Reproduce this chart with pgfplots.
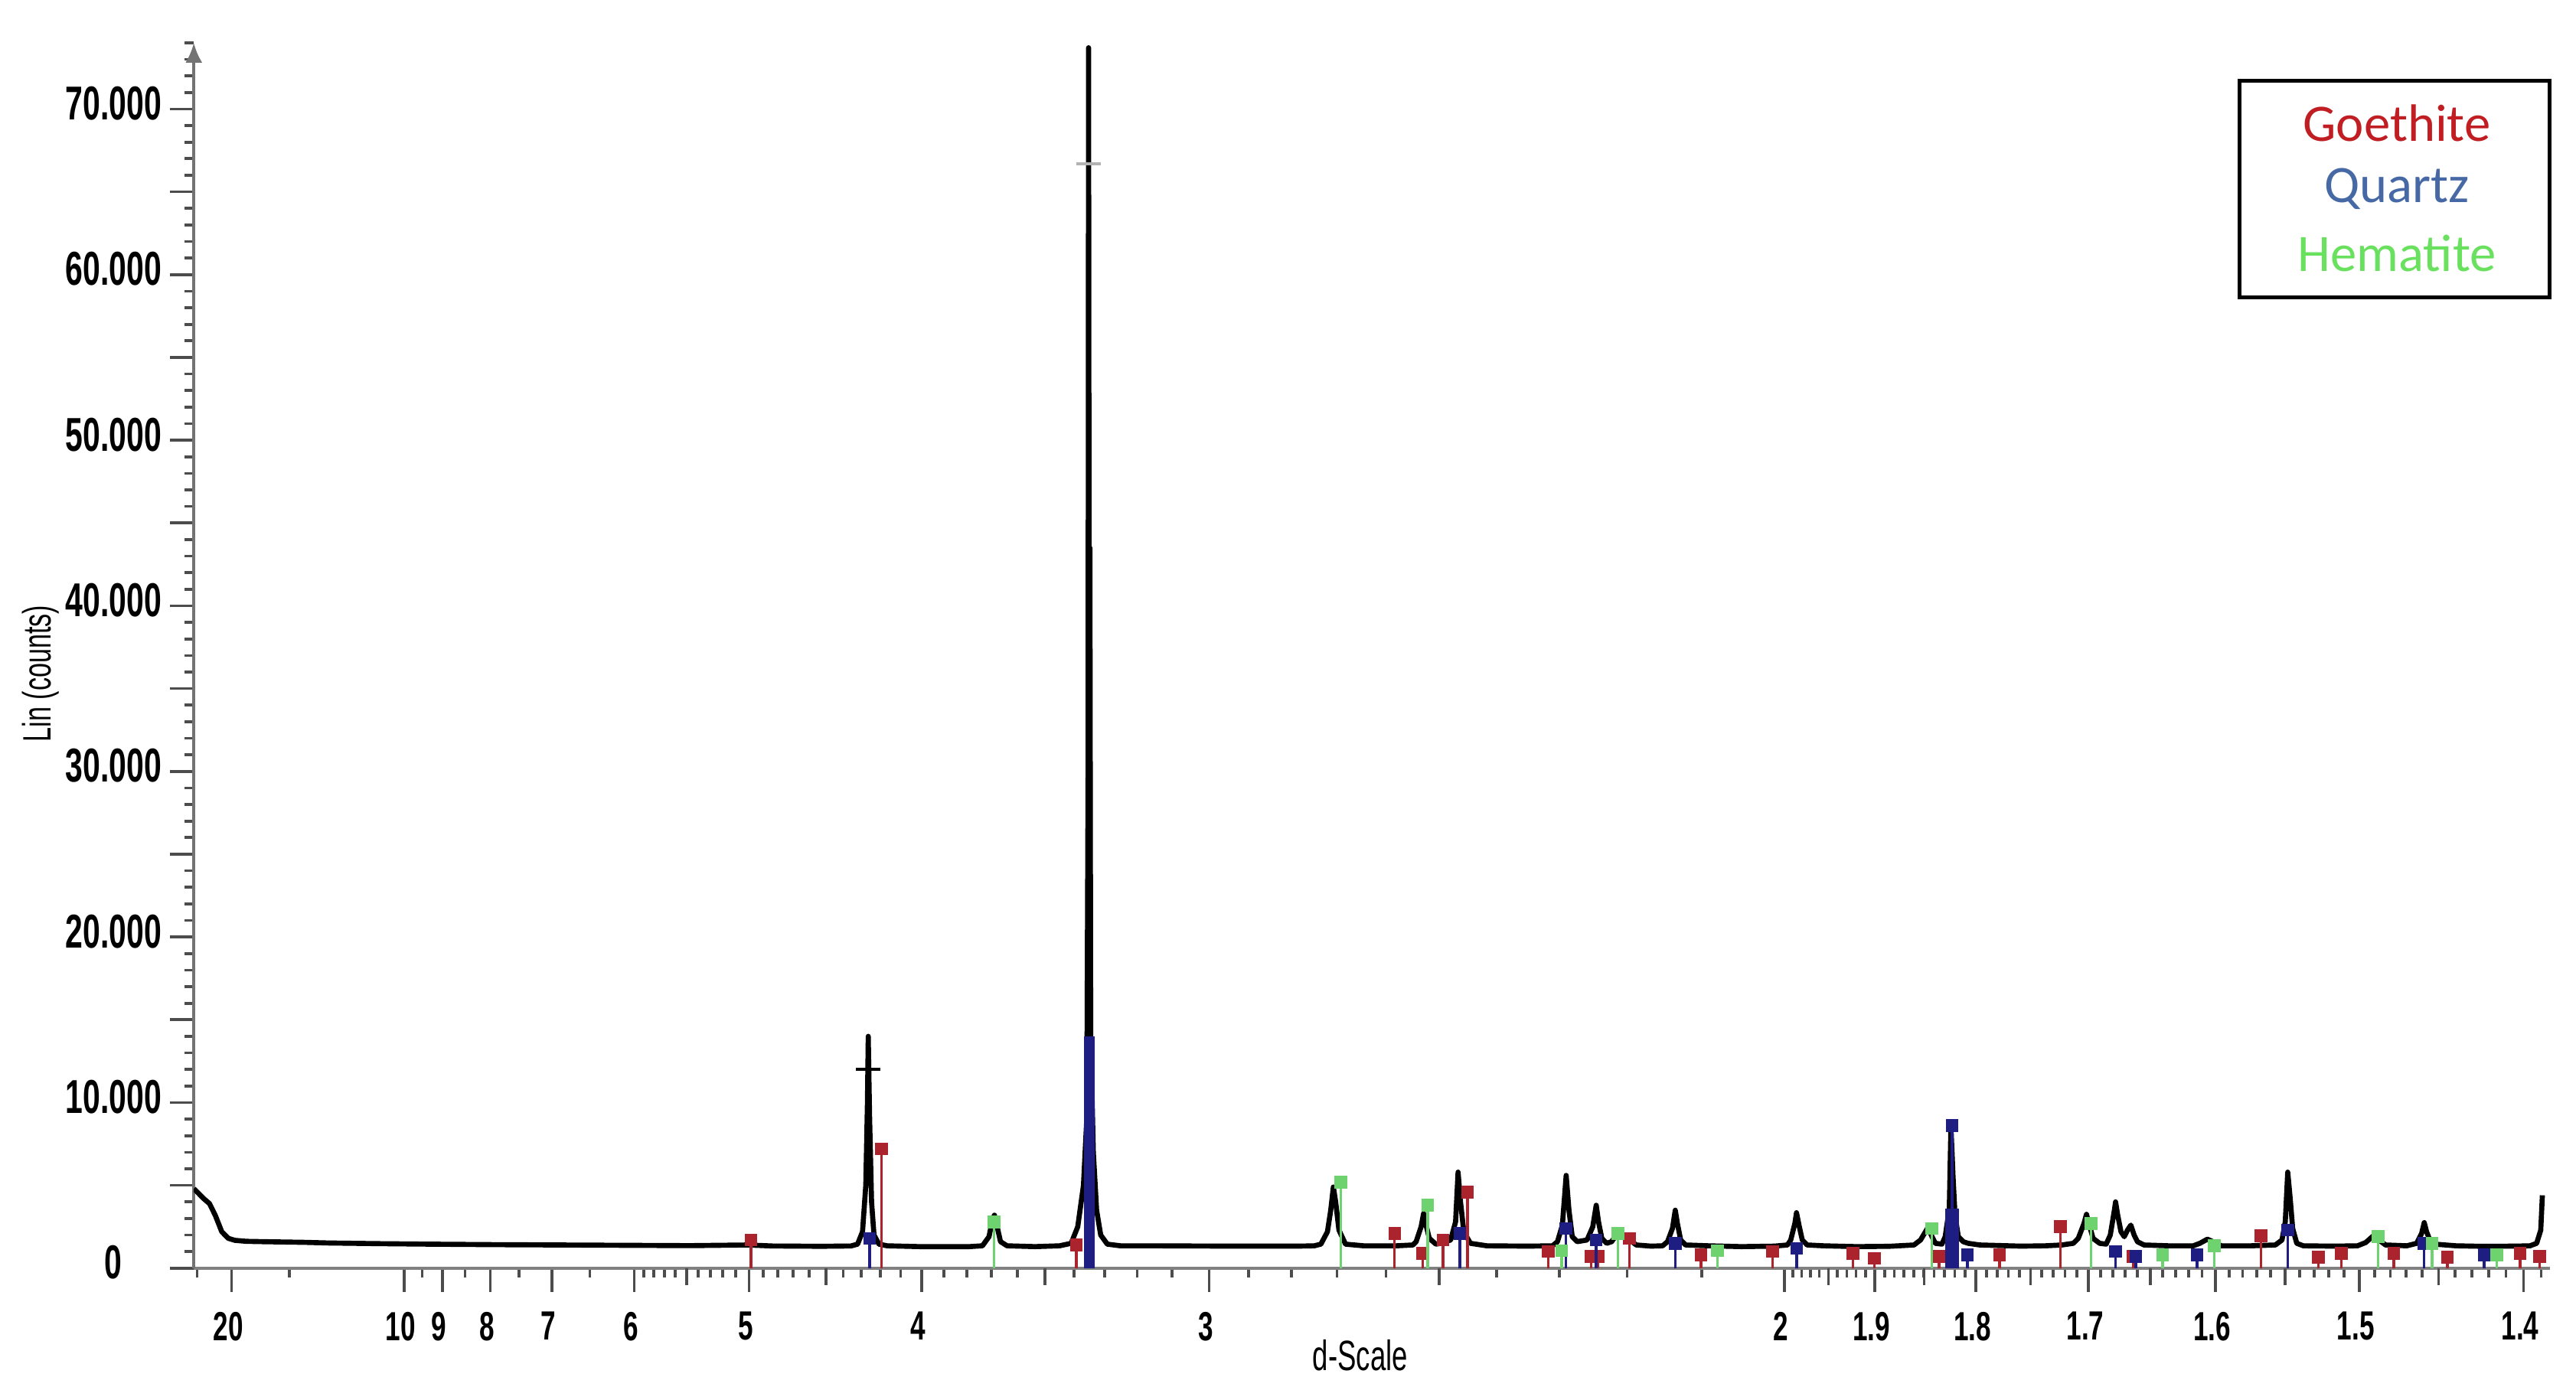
\documentclass[border=0pt]{standalone}
\usepackage{pgfplots}
\pgfplotsset{compat=1.18}
\usepackage{pgfplotstable}
\usetikzlibrary{arrows.meta}
\usepackage{fontspec}
\newfontfamily\cond{Liberation Sans}[FakeStretch=0.66]
\newfontfamily\legfont{Carlito}

\definecolor{gstick}{RGB}{170,35,45}
\definecolor{qstick}{RGB}{30,30,130}
\definecolor{hstick}{RGB}{110,210,110}
\definecolor{glegend}{RGB}{192,30,35}
\definecolor{qlegend}{RGB}{70,105,165}
\definecolor{hlegend}{RGB}{105,225,95}

% minor x ticks (positions in 1/d)
\def\xminorlist{0.04}
\foreach \d in {15,9.5,8.5,7.5,6.5,5.9,5.8,5.7,5.6,5.4,5.3,5.2,5.1,4.9,4.8,4.7,4.6,4.4,4.3,4.2,4.1,3.9,3.8,3.7,3.6,3.4,3.3,3.2,3.1,2.9,2.8,2.7,2.6,2.4,2.3,2.2,2.1}{\pgfmathparse{1/\d}\xdef\xminorlist{\xminorlist,\pgfmathresult}}
\foreach \n in {139,...,199}{\pgfmathparse{100/\n}\xdef\xminorlist{\xminorlist,\pgfmathresult}}

% measured pattern: q = 1/d (1/Angstrom), counts
\pgfplotstableread{
q c
0.03905 4800
0.04048 4500
0.04190 4200
0.04357 3900
0.04524 3200
0.04714 2200
0.04905 1800
0.05095 1680
0.05429 1620
0.05905 1600
0.07095 1560
0.07810 1520
0.09238 1480
0.10667 1450
0.12571 1420
0.14476 1400
0.16381 1380
0.18286 1360
0.19952 1400
0.20667 1340
0.22095 1320
0.22952 1340
0.23143 1450
0.23286 2200
0.23381 5000
0.23429 10000
0.23452 14000
0.23490 9200
0.23548 4000
0.23619 2000
0.23762 1450
0.24000 1350
0.24952 1300
0.26381 1300
0.26762 1350
0.26952 1900
0.27048 2900
0.27110 3200
0.27167 2700
0.27286 1600
0.27476 1350
0.28286 1300
0.29000 1350
0.29333 1500
0.29524 2500
0.29690 5000
0.29786 9000
0.29824 30000
0.29838 73700
0.29852 43500
0.29876 43500
0.29900 14000
0.29976 7000
0.30071 3500
0.30190 2000
0.30381 1450
0.30762 1350
0.31619 1350
0.34000 1330
0.35905 1330
0.36381 1350
0.36571 1450
0.36762 2200
0.36857 3500
0.36933 4900
0.37000 4000
0.37095 2300
0.37286 1450
0.37810 1350
0.38762 1350
0.39238 1400
0.39333 1600
0.39476 2500
0.39548 3300
0.39619 2600
0.39714 1800
0.39905 1450
0.40048 1500
0.40333 1700
0.40476 2800
0.40548 5800
0.40619 4000
0.40714 2200
0.40905 1500
0.41381 1350
0.42571 1330
0.43286 1350
0.43429 1600
0.43571 2600
0.43681 5600
0.43762 3500
0.43857 1900
0.44000 1600
0.44286 1700
0.44452 2500
0.44552 3800
0.44619 2800
0.44714 1800
0.44857 1500
0.45000 1600
0.45181 2150
0.45333 1900
0.45524 1700
0.45714 1400
0.46143 1330
0.46476 1350
0.46619 1600
0.46762 2400
0.46843 3500
0.46905 2700
0.47000 1700
0.47143 1400
0.47810 1350
0.48762 1300
0.49714 1330
0.50095 1400
0.50190 1700
0.50310 2700
0.50357 3350
0.50429 2600
0.50524 1700
0.50667 1400
0.51143 1350
0.52095 1300
0.53048 1320
0.53762 1400
0.53952 1700
0.54095 2200
0.54167 2450
0.54262 2000
0.54381 1500
0.54571 1450
0.54667 1900
0.54786 3600
0.54833 8600
0.54895 5500
0.54952 3200
0.55048 1900
0.55190 1600
0.55333 1500
0.55667 1400
0.56857 1330
0.57571 1350
0.58048 1400
0.58381 1500
0.58524 1800
0.58690 2700
0.58762 3250
0.58833 2700
0.58952 1800
0.59143 1500
0.59333 1450
0.59452 2000
0.59571 3500
0.59605 4000
0.59667 3200
0.59762 2200
0.59857 1900
0.59952 2300
0.60048 2600
0.60143 2000
0.60238 1600
0.60429 1400
0.61143 1350
0.61857 1350
0.62048 1500
0.62267 1750
0.62476 1550
0.62667 1350
0.63524 1350
0.64238 1400
0.64429 1700
0.64524 2800
0.64595 5800
0.64667 4200
0.64738 2400
0.64857 1500
0.65048 1350
0.65905 1330
0.66619 1350
0.66857 1550
0.67076 1950
0.67238 1700
0.67429 1400
0.68048 1350
0.68333 1500
0.68476 2100
0.68552 2750
0.68619 2200
0.68714 1700
0.68857 1450
0.69476 1350
0.70190 1320
0.71143 1330
0.71619 1350
0.71810 1500
0.71929 2300
0.71976 4400
}\pattern

\pgfplotstableread{
q h
0.2005 1700
0.2383 7200
0.2948 1400
0.3871 2100
0.3952 900
0.4011 1700
0.4082 4600
0.4316 1000
0.4441 700
0.4461 700
0.4551 1800
0.4759 800
0.4966 1000
0.5199 900
0.5261 600
0.5449 700
0.5624 800
0.5801 2500
0.6012 700
0.6382 1950
0.6548 650
0.6615 900
0.6767 900
0.6922 650
0.7133 900
0.7190 700
}\goethite

\pgfplotstableread{
q h
0.2349 1800
0.4060 2100
0.4367 2400
0.4455 1700
0.4684 1500
0.5036 1200
0.5487 8600
0.5531 800
0.5960 1000
0.6019 700
0.6197 800
0.6460 2300
0.6855 1500
0.7029 800
}\quartz

\pgfplotstableread{
q h
0.2710 2800
0.3715 5200
0.3967 3800
0.4355 1050
0.4518 2100
0.4807 1050
0.5428 2400
0.5890 2700
0.6097 800
0.6246 1350
0.6722 1900
0.6878 1500
0.7066 800
}\hematite

\begin{document}
\begin{tikzpicture}
\path[use as bounding box] (0,0) rectangle (16cm,8.633cm);
\begin{axis}[
  at={(1.204cm,0.755cm)}, anchor=south west,
  scale only axis, width=14.633cm, height=7.612cm,
  xmin=0.039048, xmax=0.721905, ymin=0, ymax=74000,
  axis lines=left,
  x axis line style={-, draw=black!50, line width=0.6pt},
  y axis line style={-{Latex[length=3.5pt,width=3pt]}, draw=black!55, line width=0.6pt},
  tick align=outside, tick pos=left,
  major tick length=4.2pt, minor tick length=1.6pt,
  every tick/.style={black!70, line width=0.5pt},
  xtick={0.05,0.1,0.111111,0.125,0.142857,0.166667,0.2,0.25,0.333333,0.5,0.526316,0.555556,0.588235,0.625,0.666667,0.714286},
  xticklabels={20,10,9,8,7,6,5,4,3,2,1.9,1.8,1.7,1.6,1.5,1.4},
  minor xtick/.expanded={\xminorlist},
  extra x ticks={0.181818,0.222222,0.285714,0.4,0.512821,0.540541,0.571429,0.606061,0.645161,0.689655},
  extra x tick labels={},
  extra x tick style={major tick length=3pt},
  ytick={0,5000,...,70000},
  yticklabels={0,{},10.000,{},20.000,{},30.000,{},40.000,{},50.000,{},60.000,{},70.000},
  minor ytick={0,1000,...,74000},
  xticklabel style={font=\cond\bfseries\fontsize{7.2}{8}\selectfont, xshift=-0.6pt, yshift=0pt},
  yticklabel style={font=\cond\bfseries\fontsize{8.4}{9}\selectfont, anchor=center, xshift=-10pt, yshift=1pt},
  xlabel={d-Scale}, ylabel={Lin (counts)},
  xlabel style={at={(axis description cs:0.4951,-0.0710)}, anchor=center, font=\cond\fontsize{7.5}{8}\selectfont},
  ylabel style={at={(axis description cs:-0.0649,0.4853)}, anchor=center, font=\cond\fontsize{7}{8}\selectfont},
  clip mode=individual,
]
\addplot[black, line width=0.9pt, line join=round] table[x=q,y=c] {\pattern};
\addplot[only marks, mark=-, mark size=2.2pt, black, line width=0.6pt] coordinates {(0.23452,12000)};
\addplot[only marks, mark=-, mark size=2.2pt, black!30, line width=0.6pt] coordinates {(0.29838,66700)};
% reference sticks
\addplot[ycomb, draw=qstick, line width=1.8pt] coordinates {(0.2986,14000)};
\addplot[ycomb, draw=qstick, line width=2.4pt] coordinates {(0.5487,3600)};
\addplot[ycomb, draw=gstick, line width=0.45pt, mark=square*, mark size=0.9pt, mark options={fill=gstick, draw=gstick}] table[x=q,y=h] {\goethite};
\addplot[ycomb, draw=qstick, line width=0.45pt, mark=square*, mark size=0.9pt, mark options={fill=qstick, draw=qstick}] table[x=q,y=h] {\quartz};
\addplot[ycomb, draw=hstick, line width=0.45pt, mark=square*, mark size=0.9pt, mark options={fill=hstick, draw=hstick}] table[x=q,y=h] {\hematite};
% legend box
\draw[black, line width=0.7pt] (axis description cs:0.8682,0.7922) rectangle (axis description cs:1.0,0.9692);
\node[font=\legfont\fontsize{9.3}{11}\selectfont, text=glegend] at (axis description cs:0.9351,0.9343) {Goethite};
\node[font=\legfont\fontsize{9.3}{11}\selectfont, text=qlegend] at (axis description cs:0.9351,0.8807) {Quartz};
\node[font=\legfont\fontsize{9.3}{11}\selectfont, text=hlegend] at (axis description cs:0.9351,0.8284) {Hematite};
\end{axis}
\end{tikzpicture}
\end{document}
